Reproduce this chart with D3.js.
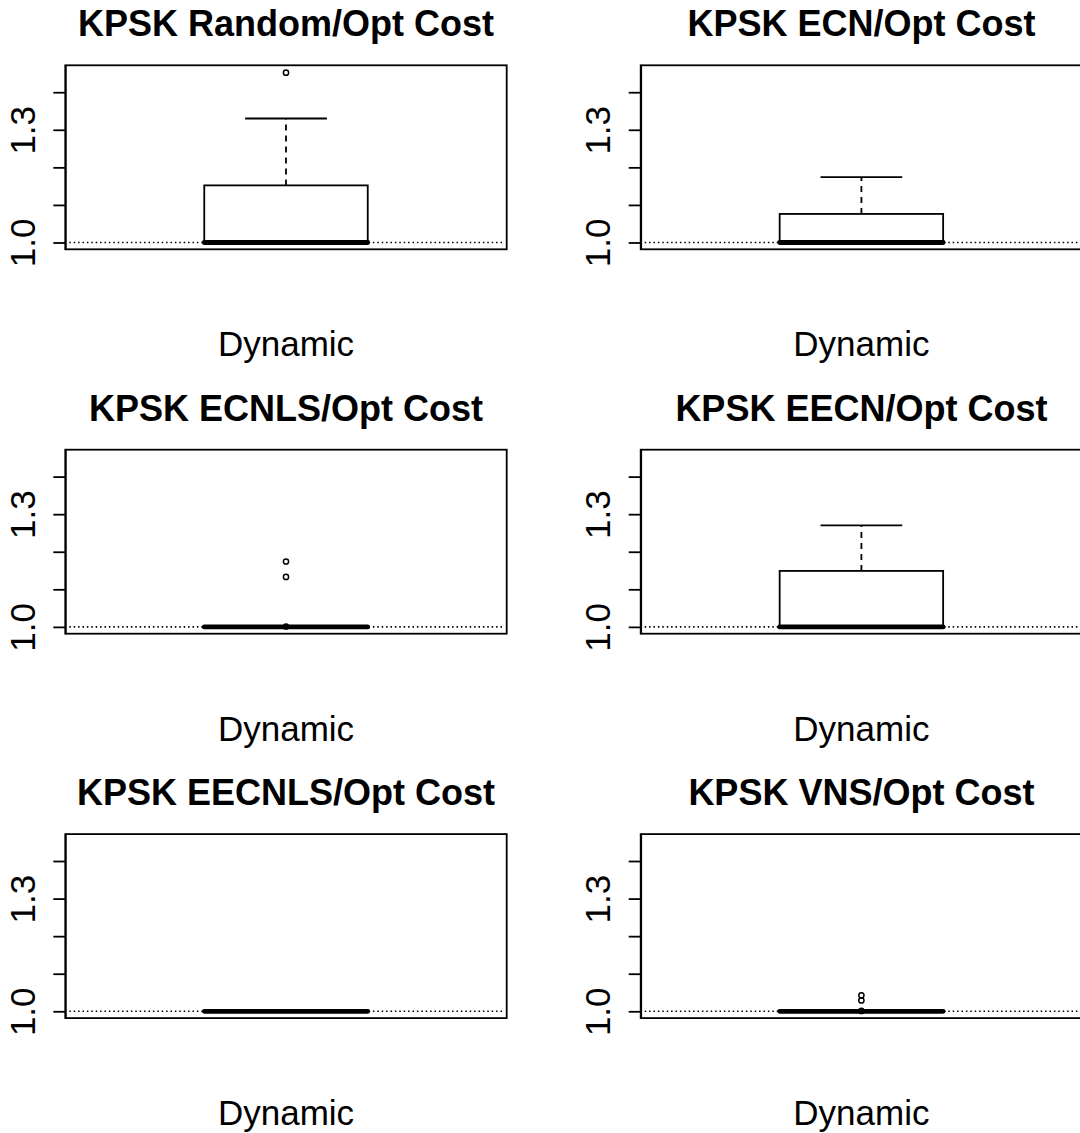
<!DOCTYPE html>
<html>
<head>
<meta charset="utf-8">
<script src="https://cdn.jsdelivr.net/npm/d3@7/dist/d3.min.js"></script>
<style>
  html, body { margin: 0; padding: 0; background: #fff; }
  svg { display: block; font-family: "Liberation Sans", Arial, Helvetica, sans-serif; }
</style>
</head>
<body>
<svg id="chart" width="1080" height="1133"></svg>
<script>
// Panel titles (row-major, two columns)
const titles = [
  "KPSK Random/Opt Cost", "KPSK ECN/Opt Cost",
  "KPSK ECNLS/Opt Cost", "KPSK EECN/Opt Cost",
  "KPSK EECNLS/Opt Cost", "KPSK VNS/Opt Cost"
];
const groupName = "Dynamic";

// Five-number summaries per panel: [lower whisker, Q1, median, Q3, upper whisker]
const lowerWhisker = [1.000, 1.000, 1.000, 1.000, 1.000, 1.000];
const q1Values     = [1.000, 1.000, 1.000, 1.000, 1.000, 1.000];
const medians      = [1.000, 1.000, 1.000, 1.000, 1.000, 1.000];
const q3Values     = [1.152, 1.076, 1.000, 1.149, 1.000, 1.000];
const upperWhisker = [1.330, 1.174, 1.000, 1.270, 1.000, 1.000];
const outliers = [
  [1.452],
  [],
  [1.174, 1.133, 1.001],
  [],
  [],
  [1.0425, 1.029, 1.001]
];

// Shared y range (data limits) and axis ticks
const yLimits = [1.0, 1.4535];
const yTicks = [1.0, 1.1, 1.2, 1.3, 1.4];
const yTickLabels = ["1.0", "", "", "1.3", ""];
const refLine = 1.0;

// Layout
const plotW = 441.4, plotH = 184;
const colLeft = [65.3, 640.7];
const rowTop = [65.3, 449.7, 834.1];

const svg = d3.select("#chart");
const pad = (yLimits[1] - yLimits[0]) * 0.04;
const yDomain = [yLimits[0] - pad, yLimits[1] + pad];

titles.forEach((title, i) => {
  const col = i % 2, row = Math.floor(i / 2);
  const left = colLeft[col], top = rowTop[row];
  const g = svg.append("g");

  const x = d3.scaleLinear().domain([0.46, 1.54]).range([left, left + plotW]);
  const y = d3.scaleLinear().domain(yDomain).range([top + plotH, top]);

  // dotted reference line at ratio 1
  g.append("line")
    .attr("x1", left + 4).attr("x2", left + plotW - 2)
    .attr("y1", y(refLine)).attr("y2", y(refLine))
    .attr("stroke", "#000").attr("stroke-width", 1.6)
    .attr("stroke-dasharray", "1.5,2.9");

  const cx = x(1), halfBox = x(1.2) - x(1), halfCap = x(1.1) - x(1);
  const stroke = 1.8;

  // whiskers (dashed) and staples
  g.append("line")
    .attr("x1", cx).attr("x2", cx)
    .attr("y1", y(q3Values[i])).attr("y2", y(upperWhisker[i]))
    .attr("stroke", "#000").attr("stroke-width", stroke)
    .attr("stroke-dasharray", "6,5");
  g.append("line")
    .attr("x1", cx).attr("x2", cx)
    .attr("y1", y(q1Values[i])).attr("y2", y(lowerWhisker[i]))
    .attr("stroke", "#000").attr("stroke-width", stroke)
    .attr("stroke-dasharray", "6,5");
  [upperWhisker[i], lowerWhisker[i]].forEach(v => {
    g.append("line")
      .attr("x1", cx - halfCap).attr("x2", cx + halfCap)
      .attr("y1", y(v)).attr("y2", y(v))
      .attr("stroke", "#000").attr("stroke-width", stroke);
  });

  // box
  g.append("rect")
    .attr("x", cx - halfBox).attr("width", 2 * halfBox)
    .attr("y", y(q3Values[i])).attr("height", y(q1Values[i]) - y(q3Values[i]))
    .attr("fill", "#fff").attr("stroke", "#000").attr("stroke-width", stroke);

  // median
  g.append("line")
    .attr("x1", cx - halfBox).attr("x2", cx + halfBox)
    .attr("y1", y(medians[i])).attr("y2", y(medians[i]))
    .attr("stroke", "#000").attr("stroke-width", 4.8)
    .attr("stroke-linecap", "round");

  // outliers
  g.selectAll("circle.out").data(outliers[i]).join("circle")
    .attr("class", "out")
    .attr("cx", cx).attr("cy", d => y(d)).attr("r", 2.6)
    .attr("fill", "none").attr("stroke", "#000").attr("stroke-width", 1.5);

  // plot frame
  g.append("rect")
    .attr("x", left).attr("y", top).attr("width", plotW).attr("height", plotH)
    .attr("fill", "none").attr("stroke", "#000").attr("stroke-width", stroke);

  // y axis
  const axis = g.append("g")
    .attr("transform", `translate(${left},0)`)
    .call(d3.axisLeft(y).tickValues(yTicks).tickSize(12).tickSizeOuter(0).tickFormat(""));
  axis.select(".domain").attr("stroke-width", stroke);
  axis.selectAll(".tick line").attr("stroke-width", stroke);
  axis.selectAll(".tick").append("text")
    .text((d, k) => yTickLabels[k])
    .attr("transform", "translate(-43,0) rotate(-90)")
    .attr("text-anchor", "middle")
    .attr("dy", "0.36em")
    .attr("fill", "#000")
    .style("font-size", "35px");

  // title
  g.append("text")
    .attr("x", cx).attr("y", top - 29)
    .attr("text-anchor", "middle")
    .style("font-size", "36px").style("font-weight", "bold")
    .text(title);

  // group label
  g.append("text")
    .attr("x", cx).attr("y", top + plotH + 107)
    .attr("text-anchor", "middle")
    .style("font-size", "35px")
    .text(groupName);
});
</script>
</body>
</html>
